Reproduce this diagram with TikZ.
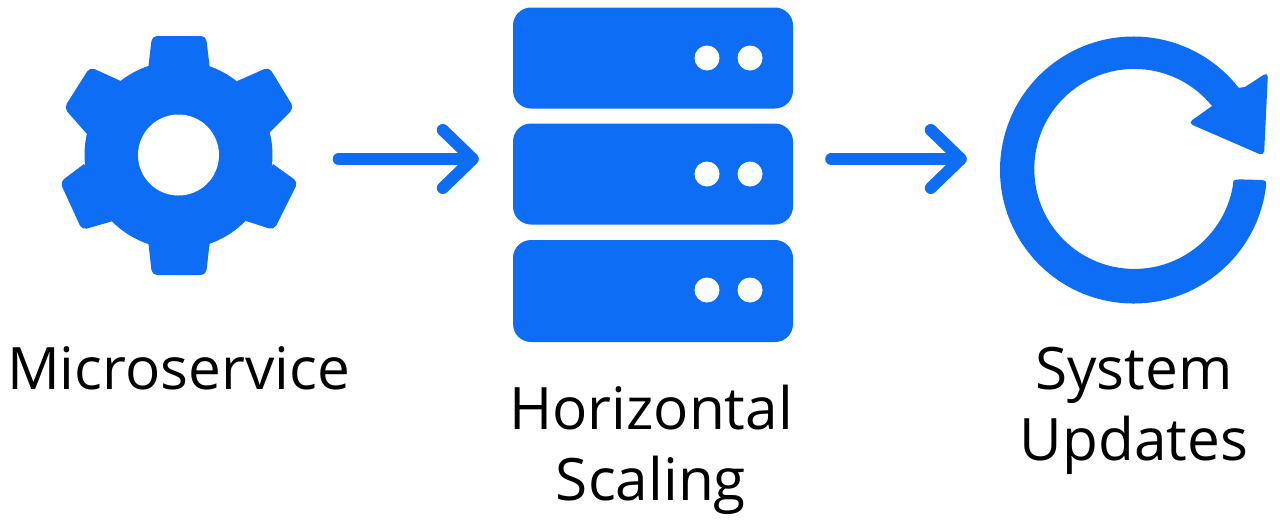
\documentclass[tikz,border=0pt]{standalone}
\usepackage{fontspec}
\setmainfont{Open Sans}
\usetikzlibrary{arrows.meta}
\definecolor{iconblue}{HTML}{0D6EF5}
\tikzset{
  iconbody/.style={circle, fill=iconblue, inner sep=0pt},
  hole/.style={circle, fill=white, inner sep=0pt},
  rack/.style={rectangle, rounded corners=18pt, fill=iconblue, inner sep=0pt, minimum width=280pt},
  led/.style={circle, fill=white, inner sep=0pt, minimum size=25pt},
  flow/.style={line width=12pt, iconblue, line cap=round, -{Straight Barb[round, length=30pt, width=58pt]}},
  caption/.style={font=\fontsize{58.5}{70.5}\selectfont, align=center, text=black, inner sep=0pt}
}
\begin{document}
\begin{tikzpicture}[x=1pt, y=-1pt]
    \useasboundingbox (0,0) rectangle (1280,520);

    % Gear
    \node[iconbody, minimum size=188pt] (gear) at (178.5,155) {};
    \fill[iconblue] (148,70) [rounded corners=5pt] -- (152,36) -- (206,36) [sharp corners] -- (210,70) -- cycle;
    \fill[iconblue] (235,82) [rounded corners=5pt] -- (269,67) -- (294,108) [sharp corners] -- (268,134) -- cycle;
    \fill[iconblue] (273,164) [rounded corners=5pt] -- (298,182) -- (274,230) [sharp corners] -- (246,221) -- cycle;
    \fill[iconblue] (210,240) [rounded corners=5pt] -- (206,275) -- (152,275) [sharp corners] -- (148,240) -- cycle;
    \fill[iconblue] (113,221) [rounded corners=5pt] -- (82,230) -- (60,182) [sharp corners] -- (84,164) -- cycle;
    \fill[iconblue] (87,134) [rounded corners=5pt] -- (64,108) -- (90,67) [sharp corners] -- (123,82) -- cycle;
    \node[hole, minimum size=81pt] (gearhole) at (gear.center) {};

    % Servers
    \node[rack, minimum height=101pt] (serverA) at (653,58) {};
    \node[rack, minimum height=101pt] (serverB) at (653,174) {};
    \node[rack, minimum height=102pt] (serverC) at (653,291) {};
    \node[led] (ledAa) at (707,58) {};
    \node[led] (ledAb) at (750,58) {};
    \node[led] (ledBa) at (707,174) {};
    \node[led] (ledBb) at (750,174) {};
    \node[led] (ledCa) at (707,290) {};
    \node[led] (ledCb) at (750,290) {};

    % Refresh
    \node[circle, inner sep=0pt, minimum size=267pt] (refresh) at (1133.5,170) {};
    \fill[iconblue] ([shift={(5:108)}]refresh.center) -- ([shift={(4.5:126)}]refresh.center)
        .. controls ([shift={(4.5:133.5)}]refresh.center) .. ([shift={(7.5:133.5)}]refresh.center)
        arc[start angle=7.5, end angle=322, radius=133.5]
        -- (1245,87) [rounded corners=5pt] -- (1268,72) -- (1264,156) -- (1188,123)
        [sharp corners] -- (1212,106) arc[start angle=321, end angle=10, radius=100]
        .. controls ([shift={(5.5:100)}]refresh.center) .. ([shift={(5:108)}]refresh.center) -- cycle;

    % Arrows
    \draw[flow] ([shift={(66,4)}]gear.east) -- ([shift={(-34,-15)}]serverB.west);
    \draw[flow] ([shift={(38,-15)}]serverB.east) -- ([shift={(-33,-11)}]refresh.west);

    % Labels
    \node[caption, anchor=base] (microlabel) at (178.5,389) {Microservice};
    \node[caption, anchor=base] (scalinglabel) at (651,500) {Horizontal\\Scaling};
    \node[caption, anchor=base] (updateslabel) at (1134,460) {System\\Updates};
\end{tikzpicture}
\end{document}
